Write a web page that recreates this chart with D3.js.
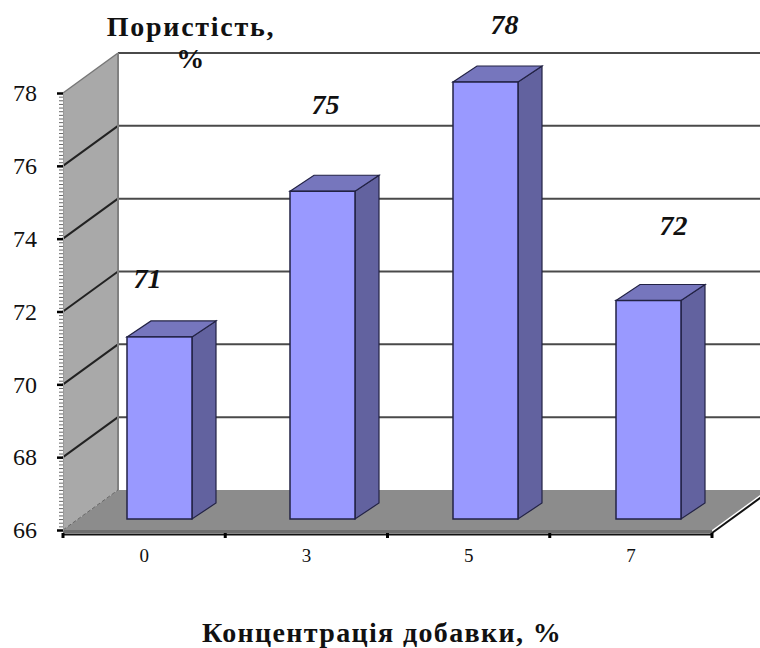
<!DOCTYPE html>
<html>
<head>
<meta charset="utf-8">
<script src="https://cdn.jsdelivr.net/npm/d3@7"></script>
<style>
    html, body { margin: 0; padding: 0; background: #fff; }
    svg { display: block; }
    text { font-family: "Liberation Serif", serif; fill: #111; }
</style>
</head>
<body>
<div id="chart"></div>
<script>
// Chart values
const categories = ["0", "3", "5", "7"];
const porosity = [71, 75, 78, 72];
const yTicks = [66, 68, 70, 72, 74, 76, 78];
const yMinorTicks = d3.range(66, 78.01, 0.1);

const titleLines = ["Пористість,", "%"];
const xTitle = "Концентрація добавки, %";

const width = 760;
const height = 648;

// Front plane of the 3D box, the back wall is shifted by depth
const plot = { left: 63, right: 712, top: 93, bottom: 530 };
const depth = { x: 55, y: -40 };
const barDepth = { x: 24, y: -16 };
const barLift = -11; // bars stand a bit behind the front edge

const svg = d3.select("#chart")
    .append("svg")
    .attr("width", width)
    .attr("height", height);

// Scales
const xScale = d3.scaleBand().domain(categories).range([plot.left, plot.right]);
const barScale = d3.scaleBand().domain(categories).range([plot.left, plot.right + 3]);
const yScale = d3.scaleLinear().domain([66, 78]).range([plot.bottom, plot.top]);
const barWidth = 65;
const barOffset = 64;

const backY = v => yScale(v) + depth.y;
const poly = pts => pts.map(p => p.join(",")).join(" ");

// Left wall
svg.append("polygon")
    .attr("points", poly([
        [plot.left, yScale(78)],
        [plot.left + depth.x, backY(78)],
        [plot.left + depth.x, backY(66)],
        [plot.left, yScale(66)]
    ]))
    .attr("fill", "#a9a9a9");

// Floor
svg.append("polygon")
    .attr("points", poly([
        [plot.left, yScale(66)],
        [plot.left + depth.x, backY(66)],
        [plot.right + depth.x, backY(66)],
        [plot.right, yScale(66)]
    ]))
    .attr("fill", "#8c8c8c");

// Darker strip along the front edge of the floor
svg.append("rect")
    .attr("x", plot.left)
    .attr("y", yScale(66))
    .attr("width", plot.right - plot.left)
    .attr("height", 3)
    .attr("fill", "#6e6e6e");

// Grid lines on the back wall and their slanted part on the left wall
const grid = svg.append("g");
grid.selectAll(".back")
    .data(yTicks.filter(d => d > 66))
    .enter().append("line")
    .attr("x1", plot.left + depth.x)
    .attr("x2", width)
    .attr("y1", d => backY(d))
    .attr("y2", d => backY(d))
    .attr("stroke", "#4a4a4a")
    .attr("stroke-width", 2);

grid.selectAll(".side")
    .data(yTicks.filter(d => d > 66))
    .enter().append("line")
    .attr("x1", plot.left)
    .attr("x2", plot.left + depth.x)
    .attr("y1", d => yScale(d))
    .attr("y2", d => backY(d))
    .attr("stroke", d => d === 78 ? "#777" : "#222")
    .attr("stroke-width", d => d === 78 ? 1.5 : 2);

// Wall corner and the corner on the floor
svg.append("line")
    .attr("x1", plot.left + depth.x)
    .attr("x2", plot.left + depth.x)
    .attr("y1", backY(78))
    .attr("y2", backY(66))
    .attr("stroke", "#808080")
    .attr("stroke-width", 2);

svg.append("line")
    .attr("x1", plot.left)
    .attr("x2", plot.left + depth.x)
    .attr("y1", yScale(66))
    .attr("y2", backY(66))
    .attr("stroke", "#666")
    .attr("stroke-width", 1)
    .attr("stroke-dasharray", "4,2");

// Right edge of the floor
svg.append("line")
    .attr("x1", plot.right)
    .attr("x2", plot.right + depth.x)
    .attr("y1", yScale(66) + 3)
    .attr("y2", backY(66) + 3)
    .attr("stroke", "#111")
    .attr("stroke-width", 2);

// Bars
const bars = svg.selectAll(".bar")
    .data(categories.map((c, i) => ({ cat: c, value: porosity[i] })))
    .enter().append("g")
    .attr("class", "bar");

const barX = d => barScale(d.cat) + barOffset;
const barTop = d => yScale(d.value) + barLift;
const barBottom = yScale(66) + barLift;

bars.append("polygon") // side
    .attr("points", d => poly([
        [barX(d) + barWidth, barTop(d)],
        [barX(d) + barWidth + barDepth.x, barTop(d) + barDepth.y],
        [barX(d) + barWidth + barDepth.x, barBottom + barDepth.y],
        [barX(d) + barWidth, barBottom]
    ]))
    .attr("fill", "#62629f")
    .attr("stroke", "#222244")
    .attr("stroke-width", 1.2);

bars.append("polygon") // top
    .attr("points", d => poly([
        [barX(d), barTop(d)],
        [barX(d) + barDepth.x, barTop(d) + barDepth.y],
        [barX(d) + barWidth + barDepth.x, barTop(d) + barDepth.y],
        [barX(d) + barWidth, barTop(d)]
    ]))
    .attr("fill", "#7676bd")
    .attr("stroke", "#222244")
    .attr("stroke-width", 1.2);

bars.append("rect") // front
    .attr("x", d => barX(d))
    .attr("y", d => barTop(d))
    .attr("width", barWidth)
    .attr("height", d => barBottom - barTop(d))
    .attr("fill", "#9999ff")
    .attr("stroke", "#222244")
    .attr("stroke-width", 1.5);

// Data labels were moved by hand in the original chart
const labelDx = [-12, 3, 19, 25];
const labelDy = [-49, -77, -48, -66];
svg.selectAll(".value")
    .data(porosity)
    .enter().append("text")
    .attr("class", "value")
    .attr("x", (d, i) => barScale(categories[i]) + barOffset + barWidth / 2 + labelDx[i])
    .attr("y", (d, i) => yScale(d) + barLift + labelDy[i])
    .attr("text-anchor", "middle")
    .style("font-size", "28px")
    .style("font-style", "italic")
    .style("font-weight", "bold")
    .text(d => d);

// Minor ticks on the y axis
const minor = d3.axisLeft(yScale).tickValues(yMinorTicks).tickSize(4).tickFormat("");
svg.append("g")
    .attr("transform", "translate(" + plot.left + ",0)")
    .call(minor)
    .call(g => g.selectAll("line").attr("stroke", "#666").attr("stroke-width", 1))
    .call(g => g.select(".domain").attr("stroke", "#999").attr("stroke-width", 1));

// Major ticks on the y axis
const yAxis = d3.axisLeft(yScale).tickValues(yTicks).tickSize(6).tickPadding(20).tickFormat(d3.format("d"));
svg.append("g")
    .attr("transform", "translate(" + plot.left + ",0)")
    .call(yAxis)
    .call(g => g.select(".domain").remove())
    .call(g => g.selectAll("line").attr("stroke", "#000").attr("stroke-width", 2.5))
    .selectAll("text")
    .attr("fill", "#111")
    .style("font-family", '"Liberation Serif", serif')
    .style("font-size", "24px");

// X axis, ticks between the categories
const xAxisY = yScale(66) + 4;
const xAxisLine = d3.axisBottom(xScale).tickSize(0).tickPadding(15);
svg.append("g")
    .attr("transform", "translate(0," + xAxisY + ")")
    .call(xAxisLine)
    .call(g => g.select(".domain").attr("stroke", "#111").attr("stroke-width", 2))
    .selectAll("text")
    .attr("fill", "#111")
    .style("font-family", '"Liberation Serif", serif')
    .style("font-size", "19px");

const bandEdges = categories.map(c => xScale(c)).concat([plot.right]);
svg.selectAll(".xtick")
    .data(bandEdges)
    .enter().append("line")
    .attr("x1", d => d)
    .attr("x2", d => d)
    .attr("y1", xAxisY - 1)
    .attr("y2", xAxisY + 4)
    .attr("stroke", "#000")
    .attr("stroke-width", 3);

// Axis titles
svg.selectAll(".title")
    .data(titleLines)
    .enter().append("text")
    .attr("class", "title")
    .attr("x", 191)
    .attr("y", (d, i) => 36 + i * 32)
    .attr("text-anchor", "middle")
    .style("font-size", "28px")
    .style("font-weight", "bold")
    .style("letter-spacing", "1.75px")
    .text(d => d);

svg.append("text")
    .attr("x", 382)
    .attr("y", 642)
    .attr("text-anchor", "middle")
    .style("font-size", "28px")
    .style("font-weight", "bold")
    .style("letter-spacing", "1.35px")
    .text(xTitle);
</script>
</body>
</html>
